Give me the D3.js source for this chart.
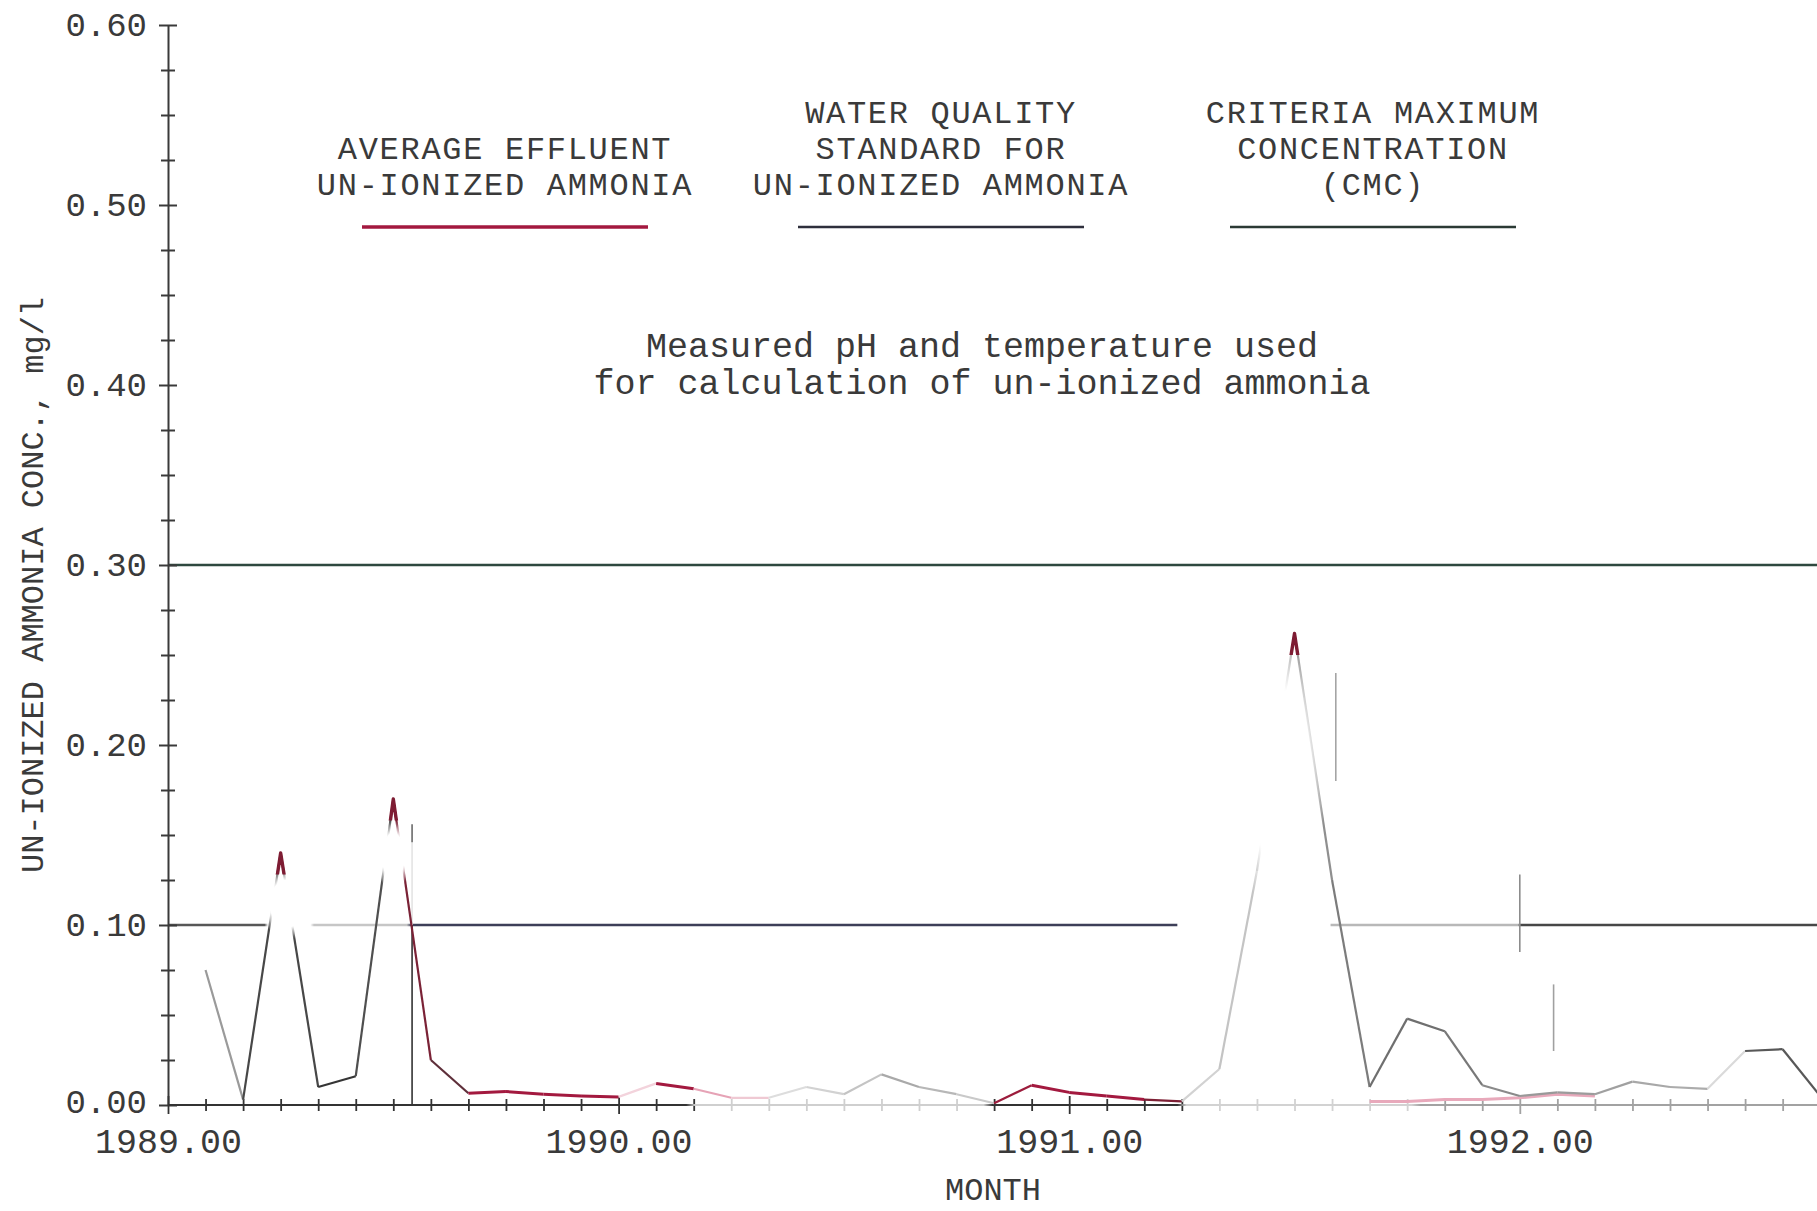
<!DOCTYPE html>
<html>
<head>
<meta charset="utf-8">
<script src="https://cdn.jsdelivr.net/npm/d3@7"></script>
<style>
  html, body { margin: 0; padding: 0; background: #ffffff; }
  svg { display: block; }
</style>
</head>
<body>
<svg id="chart" width="1817" height="1211"></svg>
<script>
// ---------------------------------------------------------------
// Data: months are counted from January 1989 (month 12 = 1990.00)
// ---------------------------------------------------------------
const effluentMonths = [
  1, 2, 3, 4, 5, 6, 7, 8, 9, 10, 11, 12,
  13, 14, 15, 16, 17, 18, 19, 20, 21, 22, 23, 24,
  25, 26, 27, 28, 29, 30, 31, 32, 33, 34, 35, 36,
  37, 38, 39, 40, 41, 42, 43, 44
];
const effluentValues = [
  0.075, 0.003, 0.140, 0.010, 0.016, 0.170, 0.025, 0.0065, 0.0075, 0.006, 0.005, 0.0045,
  0.012, 0.009, 0.004, 0.004, 0.010, 0.006, 0.017, 0.010, 0.006, 0.001, 0.011, 0.007,
  0.005, 0.003, 0.002, 0.020, 0.130, 0.262, 0.125, 0.010, 0.048, 0.041, 0.011, 0.005,
  0.007, 0.006, 0.013, 0.010, 0.009, 0.030, 0.031, 0.005
];
// ink of each month-to-month stretch of the effluent trace
const effluentSegmentColors = [
  "#9a9a9a", "#474747", "#474747", "#353535", "#4f4f4f", "#7a2236", "#5e2f3a", "#a3193f",
  "#a3193f", "#a3193f", "#a3193f", "#f3d3dc", "#a3193f", "#e6a3b6", "#efc9d3", "#dddddd",
  "#d2d2d2", "#c4c4c4", "#a9a9a9", "#b7b7b7", "#c9c9c9", "#9c1c3c", "#a3193f", "#a3193f",
  "#a3193f", "#7d2035", "#d2d2d2", "#c4c4c4", "#a6a6a6", "#8f8f8f", "#7c7c7c", "#6f6f6f",
  "#6f6f6f", "#787878", "#8a8a8a", "#999999", "#9c9c9c", "#a0a0a0", "#a8a8a8", "#acacac",
  "#dadada", "#585858", "#585858"
];

// faint trace running along the base line in late 1991 / 1992
const lowTraceMonths = [32, 33, 34, 35, 36, 37, 38];
const lowTraceValues = [0.002, 0.002, 0.003, 0.003, 0.004, 0.006, 0.005];

// reference levels (mg/l)
const standardValue = 0.10;
const standardSpans = [[1989.0, 1991.24], [1991.58, 1993.0]];
const cmcValue = 0.30;
const cmcSpan = [1989.0, 1993.0];

// vertical rules (month, low value, high value)
const markerRuleMonths = [6.5, 6.5, 6.5, 31.1, 36.0, 36.9];
const markerRuleLows   = [0.000, 0.100, 0.146, 0.180, 0.085, 0.030];
const markerRuleHighs  = [0.100, 0.146, 0.156, 0.240, 0.128, 0.067];
const markerRuleColors = ["#333333", "#e4e4e4", "#6a6a6a", "#a5a5a5", "#8c8c8c", "#a0a0a0"];

// axis ticks and labels
const yTickValues = [0.0, 0.1, 0.2, 0.3, 0.4, 0.5, 0.6];
const yTickLabels = ["0.00", "0.10", "0.20", "0.30", "0.40", "0.50", "0.60"];
const xTickYears  = [1989, 1990, 1991, 1992];
const xTickLabels = ["1989.00", "1990.00", "1991.00", "1992.00"];
const xAxisTitle = "MONTH";
const yAxisTitle = "UN-IONIZED AMMONIA CONC., mg/l";

// legend and annotation
const legendLabels = [
  ["AVERAGE EFFLUENT", "UN-IONIZED AMMONIA"],
  ["WATER QUALITY", "STANDARD FOR", "UN-IONIZED AMMONIA"],
  ["CRITERIA MAXIMUM", "CONCENTRATION", "(CMC)"]
];
const noteLines = [
  "Measured pH and temperature used",
  "for calculation of un-ionized ammonia"
];

// shading of the standard line and of the base line along the time axis
const standardShadeStops = [
  [1989.000, "#575757"], [1989.214, "#575757"], [1989.222, "#ffffff"], [1989.316, "#ffffff"],
  [1989.324, "#c6c6c6"], [1989.530, "#c6c6c6"], [1989.540, "#3d3f58"], [1991.240, "#3d3f58"],
  [1991.560, "#b8b8b8"], [1991.995, "#b8b8b8"], [1992.003, "#474747"], [1993.000, "#474747"]
];
const baseShadeStops = [
  [1989.000, "#333333"], [1990.150, "#333333"], [1990.170, "#cfcfcf"], [1990.810, "#cfcfcf"],
  [1990.830, "#333333"], [1991.240, "#333333"], [1991.260, "#d2d2d2"], [1991.760, "#d2d2d2"],
  [1991.780, "#a2a2a2"], [1993.000, "#a2a2a2"]
];

// washed-out patches (month, value, half-width in months, half-height in mg/l)
const fadeZones = [
  { month: 3.20, value: 0.112, rm: 0.75, rv: 0.020 },
  { month: 6.00, value: 0.138, rm: 0.45, rv: 0.020 },
  { month: 29.7, value: 0.175, rm: 1.10, rv: 0.085 }
];

// ---------------------------------------------------------------
// Drawing
// ---------------------------------------------------------------
const W = 1817, H = 1211;
const FONT = "'Liberation Mono', 'DejaVu Sans Mono', monospace";
const INK = "#3a3a3a";
const RED = "#a3193f";

const svg = d3.select("#chart");
const defs = svg.append("defs");

const x = d3.scaleLinear().domain([1989, 1990]).range([168, 618.6]);
const y = d3.scaleLinear().domain([0, 0.6]).range([1105, 25]);
const monthToYear = m => 1989 + m / 12;

const shadeAt = (stops, t) => {
  let c = stops[0][1];
  for (const s of stops) if (s[0] <= t + 1e-9) c = s[1];
  return c;
};
const addGradient = (id, stops) => {
  const g = defs.append("linearGradient").attr("id", id)
    .attr("gradientUnits", "userSpaceOnUse")
    .attr("x1", x(1989)).attr("x2", x(1993)).attr("y1", 0).attr("y2", 0);
  stops.forEach(s => g.append("stop")
    .attr("offset", (s[0] - 1989) / 4).attr("stop-color", s[1]));
};
addGradient("stdShade", standardShadeStops);
addGradient("baseShade", baseShadeStops);

// mask that washes out the faded patches of the effluent trace
const soft = defs.append("radialGradient").attr("id", "softSpot");
soft.append("stop").attr("offset", 0).attr("stop-color", "#000").attr("stop-opacity", 1);
soft.append("stop").attr("offset", 0.65).attr("stop-color", "#000").attr("stop-opacity", 1);
soft.append("stop").attr("offset", 1).attr("stop-color", "#000").attr("stop-opacity", 0);
const mask = defs.append("mask").attr("id", "fade")
  .attr("maskUnits", "userSpaceOnUse")
  .attr("x", 0).attr("y", 0).attr("width", W).attr("height", H);
mask.append("rect").attr("width", W).attr("height", H).attr("fill", "#fff");
mask.selectAll("ellipse").data(fadeZones).join("ellipse")
  .attr("cx", d => x(monthToYear(d.month)))
  .attr("cy", d => y(d.value))
  .attr("rx", d => x(monthToYear(d.month + d.rm)) - x(monthToYear(d.month)))
  .attr("ry", d => y(0) - y(d.rv))
  .attr("fill", "url(#softSpot)");

// ---- reference levels ----
svg.append("line")
  .attr("x1", x(cmcSpan[0])).attr("x2", x(cmcSpan[1]))
  .attr("y1", y(cmcValue)).attr("y2", y(cmcValue))
  .attr("stroke", "#2e483f").attr("stroke-width", 2.6);

svg.append("g").selectAll("line").data(standardSpans).join("line")
  .attr("x1", d => x(d[0])).attr("x2", d => x(d[1]))
  .attr("y1", y(standardValue)).attr("y2", y(standardValue))
  .attr("stroke", "url(#stdShade)").attr("stroke-width", 2.4);

// ---- vertical rules ----
svg.append("g").selectAll("line").data(markerRuleMonths).join("line")
  .attr("x1", d => x(monthToYear(d))).attr("x2", d => x(monthToYear(d)))
  .attr("y1", (d, i) => y(markerRuleLows[i])).attr("y2", (d, i) => y(markerRuleHighs[i]))
  .attr("stroke", (d, i) => markerRuleColors[i]).attr("stroke-width", 1.6);

// ---- y axis ----
const yMinorValues = d3.range(0, 24).map(k => k * 0.025)
  .filter(v => Math.abs(v * 10 - Math.round(v * 10)) > 1e-6);
const yAxisG = svg.append("g").attr("transform", `translate(${x(1989)},0)`);
yAxisG.append("g")
  .call(d3.axisLeft(y).tickValues(yTickValues).tickFormat((d, i) => yTickLabels[i])
    .tickSize(9).tickSizeOuter(0).tickPadding(12));
yAxisG.append("g")
  .call(d3.axisRight(y).tickValues(yTickValues).tickFormat("").tickSize(9).tickSizeOuter(0))
  .call(g => g.select(".domain").remove());
yAxisG.append("g")
  .call(d3.axisLeft(y).tickValues(yMinorValues).tickFormat("").tickSize(7).tickSizeOuter(0))
  .call(g => g.select(".domain").remove());
yAxisG.append("g")
  .call(d3.axisRight(y).tickValues(yMinorValues).tickFormat("").tickSize(7).tickSizeOuter(0))
  .call(g => g.select(".domain").remove());
yAxisG.selectAll(".domain").attr("stroke", INK).attr("stroke-width", 2);
yAxisG.selectAll(".tick line").attr("stroke", INK).attr("stroke-width", 2);
yAxisG.selectAll("text")
  .attr("font-family", FONT).attr("font-size", 34).attr("fill", INK)
  .attr("dy", d => d === 0 ? "0.22em" : "0.32em");

// ---- x axis ----
const monthTicks = d3.range(0, 45).map(monthToYear);
const isYear = t => xTickYears.findIndex(yr => Math.abs(yr - t) < 1e-6);
const xAxisG = svg.append("g").attr("transform", `translate(0,${y(0)})`);
xAxisG.append("g")
  .call(d3.axisBottom(x).tickValues(monthTicks)
    .tickFormat(t => { const k = isYear(t); return k >= 0 ? xTickLabels[k] : ""; })
    .tickSize(6).tickSizeOuter(0).tickPadding(17))
  .call(g => g.select(".domain").remove());
xAxisG.append("g")
  .call(d3.axisTop(x).tickValues(monthTicks).tickFormat("").tickSize(6).tickSizeOuter(0))
  .call(g => g.select(".domain").remove());
xAxisG.selectAll(".tick line")
  .attr("stroke", d => shadeAt(baseShadeStops, d))
  .attr("stroke-width", 1.8)
  .attr("y2", function (d) {
    const v = +d3.select(this).attr("y2");
    return isYear(d) >= 0 ? v * 1.5 : v;
  });
xAxisG.selectAll("text")
  .attr("font-family", FONT).attr("font-size", 35).attr("fill", INK);
xAxisG.selectAll(".tick").filter(t => isYear(t) < 0).select("text").remove();
xAxisG.append("line")
  .attr("x1", x(1989)).attr("x2", x(1993)).attr("y1", 0).attr("y2", 0)
  .attr("stroke", "url(#baseShade)").attr("stroke-width", 2);

// ---- data traces ----
const line = d3.line().x(d => x(monthToYear(d[0]))).y(d => y(d[1]));
const effluent = effluentMonths.map((m, i) => [m, effluentValues[i]]);
const low = lowTraceMonths.map((m, i) => [m, lowTraceValues[i]]);

svg.append("path")
  .attr("d", line(low))
  .attr("fill", "none").attr("stroke", "#e8a9bb").attr("stroke-width", 3);

const traceG = svg.append("g").attr("mask", "url(#fade)");
traceG.selectAll("path").data(d3.pairs(effluent)).join("path")
  .attr("d", d => line(d))
  .attr("fill", "none")
  .attr("stroke", (d, i) => effluentSegmentColors[i])
  .attr("stroke-width", (d, i) => effluentSegmentColors[i] === RED ? 3 : 2.2)
  .attr("stroke-linejoin", "round");

// peak tips stay visible above the washed-out patches
const peaks = effluent.filter((d, i) =>
  d[1] > 0.12 && i > 0 && i < effluent.length - 1 &&
  d[1] > effluent[i - 1][1] && d[1] > effluent[i + 1][1]);
peaks.forEach((p, k) => {
  const cp = defs.append("clipPath").attr("id", "tip" + k);
  cp.append("rect")
    .attr("x", x(monthToYear(p[0] - 0.25)))
    .attr("y", y(p[1] + 0.01))
    .attr("width", x(monthToYear(p[0] + 0.25)) - x(monthToYear(p[0] - 0.25)))
    .attr("height", y(p[1] - 0.012) - y(p[1] + 0.01));
  svg.append("path")
    .attr("d", line(effluent))
    .attr("clip-path", `url(#tip${k})`)
    .attr("fill", "none").attr("stroke", "#7e1c33").attr("stroke-width", 3.4)
    .attr("stroke-linejoin", "round");
});

// ---- legend ----
const legendCenters = [505, 941, 1373];
const legendHalf = 143;
const legendLineY = 227;
const legendColors = [RED, "#2e2f3c", "#2b3a34"];
legendLabels.forEach((lines, i) => {
  const g = svg.append("g");
  const t = g.append("text")
    .attr("text-anchor", "middle")
    .attr("font-family", FONT).attr("font-size", 32)
    .attr("letter-spacing", 1.7).attr("fill", INK);
  lines.forEach((txt, j) => {
    t.append("tspan")
      .attr("x", legendCenters[i])
      .attr("y", legendLineY - 32 - 36 * (lines.length - 1 - j))
      .text(txt);
  });
  g.append("line")
    .attr("x1", legendCenters[i] - legendHalf).attr("x2", legendCenters[i] + legendHalf)
    .attr("y1", legendLineY).attr("y2", legendLineY)
    .attr("stroke", legendColors[i]).attr("stroke-width", i === 0 ? 3.6 : 2.6);
});

// ---- annotation ----
const note = svg.append("text")
  .attr("text-anchor", "middle")
  .attr("font-family", FONT).attr("font-size", 35).attr("fill", INK);
noteLines.forEach((txt, j) => {
  note.append("tspan").attr("x", 982).attr("y", 357 + 37 * j).text(txt);
});

// ---- axis titles ----
svg.append("text")
  .attr("x", 993).attr("y", 1200)
  .attr("text-anchor", "middle")
  .attr("font-family", FONT).attr("font-size", 32).attr("fill", INK)
  .text(xAxisTitle);

svg.append("text")
  .attr("transform", "translate(43,585) rotate(-90)")
  .attr("text-anchor", "middle")
  .attr("font-family", FONT).attr("font-size", 32).attr("fill", INK)
  .text(yAxisTitle);
</script>
</body>
</html>
